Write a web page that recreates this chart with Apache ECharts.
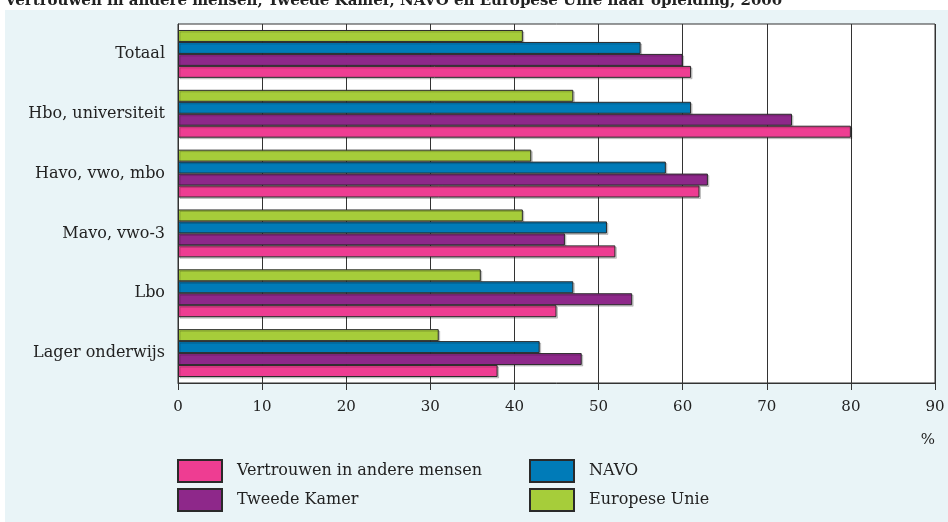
<!DOCTYPE html>
<html style="height: 100%">
<head>
    <meta charset="utf-8">
    <title>ECharts</title>
    <script src="https://cdn.jsdelivr.net/npm/echarts/dist/echarts.min.js"></script>
</head>
<body style="height: 100%; margin: 0; background: #fff">
    <div id="main" style="width: 948px; height: 522px"></div>
    <script type="text/javascript">
        var chart = echarts.init(document.getElementById('main'));

        // categorieën (van boven naar onder)
        var categories = ['Totaal', 'Hbo, universiteit', 'Havo, vwo, mbo', 'Mavo, vwo-3', 'Lbo', 'Lager onderwijs'];
        var xTicks = [0, 10, 20, 30, 40, 50, 60, 70, 80, 90];

        // waarden in %
        var vertrouwen = [61, 80, 62, 52, 45, 38];
        var tweedeKamer = [60, 73, 63, 46, 54, 48];
        var navo = [55, 61, 58, 51, 47, 43];
        var europeseUnie = [41, 47, 42, 41, 36, 31];

        var font = 'DejaVu Serif';

        function bar(name, data, color) {
            return {
                name: name,
                type: 'bar',
                data: data,
                barGap: '0%',
                barCategoryGap: '20%',
                itemStyle: {
                    color: color,
                    borderColor: '#2a2a2a',
                    borderWidth: 1,
                    shadowColor: 'rgba(0,0,0,0.18)',
                    shadowOffsetX: 1.5,
                    shadowOffsetY: 1.5
                }
            };
        }

        // één legenda per item, zodat de 2x2 indeling vast ligt
        function legend(name, left, top) {
            return {
                left: left,
                top: top,
                data: [name],
                itemWidth: 44,
                itemHeight: 22,
                icon: 'rect',
                selectedMode: false,
                textStyle: { fontFamily: font, fontSize: 16, color: '#222', padding: [6, 0, 0, 10] }
            };
        }

        var option = {
            backgroundColor: '#fff',
            animation: false,
            title: {
                text: 'Vertrouwen in andere mensen, Tweede Kamer, NAVO en Europese Unie naar opleiding, 2000',
                left: 0,
                top: -11,
                textStyle: { fontFamily: font, fontSize: 15, fontWeight: 'bold', color: '#222' }
            },
            graphic: [{
                type: 'rect',
                z: -10,
                shape: { x: 5, y: 10, width: 943, height: 512 },
                style: { fill: '#e9f4f7' }
            }],
            legend: [
                legend('Vertrouwen in andere mensen', 172, 454),
                legend('Tweede Kamer', 172, 483),
                legend('NAVO', 524, 454),
                legend('Europese Unie', 524, 483)
            ],
            grid: {
                left: 178,
                right: 13,
                top: 24,
                bottom: 139,
                show: true,
                backgroundColor: '#fff',
                borderColor: '#333',
                borderWidth: 1
            },
            xAxis: {
                type: 'value',
                min: xTicks[0],
                max: xTicks[xTicks.length - 1],
                interval: 10,
                name: '%',
                nameLocation: 'end',
                nameGap: 0,
                nameTextStyle: { fontFamily: font, fontSize: 15, color: '#222', align: 'right', verticalAlign: 'top', padding: [50, 0, 0, 0] },
                axisLine: { show: true, lineStyle: { color: '#333' } },
                axisTick: { show: true, length: 7, lineStyle: { color: '#333' } },
                axisLabel: { fontFamily: font, fontSize: 15, color: '#222', margin: 17 },
                splitLine: { show: true, lineStyle: { color: '#333', width: 1 } }
            },
            yAxis: {
                type: 'category',
                data: categories,
                inverse: true,
                axisLine: { show: true, lineStyle: { color: '#333' } },
                axisTick: { show: false },
                axisLabel: { fontFamily: font, fontSize: 16, color: '#222', margin: 13 }
            },
            series: [
                bar('Europese Unie', europeseUnie, '#a6cd3a'),
                bar('NAVO', navo, '#007bb8'),
                bar('Tweede Kamer', tweedeKamer, '#8e288a'),
                bar('Vertrouwen in andere mensen', vertrouwen, '#ee3d92')
            ]
        };

        chart.setOption(option);
    </script>
</body>
</html>
